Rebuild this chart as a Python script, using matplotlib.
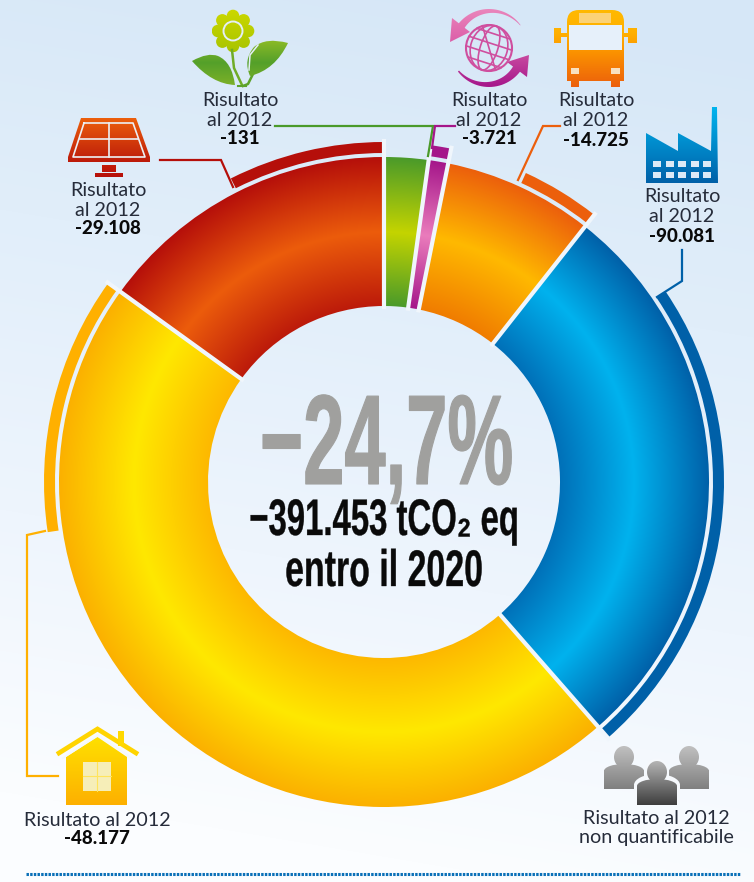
import numpy as np
import matplotlib
matplotlib.use('Agg')
import matplotlib.pyplot as plt
import matplotlib.patheffects as pe
from matplotlib.colors import to_rgb
from matplotlib.patches import Wedge, PathPatch, Circle, Ellipse, Rectangle, FancyBboxPatch
from matplotlib.path import Path
from matplotlib.transforms import Affine2D

# target of each sector (tCO2), clockwise from the top
sectors = ['verde', 'rifiuti', 'trasporti', 'industria', 'residenziale', 'terziario']
targets = [8590, 3800, 29150, 109400, 181600, 58913]
# result at 2012, shown as the outer thin arc
results = [131, 3721, 14725, 90081, 48177, 29108]
result_labels = ['-131', '-3.721', '-14.725', '-90.081', '-48.177', '-29.108']
total = 391453

main_label = '−24,7%'
sub_labels = ['−391.453 tCO₂ eq', 'entro il 2020']

W, H = 754, 882
cx, cy = 384, 482
r_in, r_mid, r_out = 176, 250, 325
arc_in, arc_out = 329, 340

# colours outer / middle / inner
grads = [('#4a9a2a', '#c4d400', '#4a9a2a'),
         ('#a5168a', '#ea7cbc', '#a5168a'),
         ('#ec5f0c', '#ffb900', '#f07c00'),
         ('#0060a8', '#00b2ee', '#0070b8'),
         ('#fbb000', '#ffe800', '#fdb800'),
         ('#b50f0a', '#ec5c0c', '#bc1a0a')]
line_cols = ['#4a9a2a', '#a5168a', '#ec5f0c', '#0060a8', '#ffb000', '#b50f0a']

fig = plt.figure(figsize=(W / 100, H / 100), dpi=100)
ax = fig.add_axes([0, 0, 1, 1])
ax.set_xlim(0, W)
ax.set_ylim(H, 0)
ax.set_autoscale_on(False)
ax.axis('off')

xx, yy = np.meshgrid(np.arange(W) + 0.5, np.arange(H) + 0.5)
rho = np.hypot(xx - cx, yy - cy)


def ramp(t, stops, cols):
    rgb = [to_rgb(c) for c in cols]
    return np.dstack([np.interp(t, stops, [c[i] for c in rgb]) for i in range(3)])


# background
bg = ramp(yy + 0.12 * (W - xx) - 0.05 * xx, [0, 300, 600, 882], ['#d6e7f7', '#e1eefa', '#eef5fd', '#fbfdff'])
ax.imshow(bg, extent=(0, W, H, 0), origin='upper', aspect='auto', zorder=0)


def vgrad(parts, stops, cols, z=3):
    # vertical gradient on a list of paths, top to bottom of the whole icon
    ext = Path.make_compound_path(*parts).get_extents()
    t = np.linspace(0, 1, 100).reshape(-1, 1)
    img = ramp(t, stops, cols)
    for p in parts:
        im = ax.imshow(img, extent=(ext.x0, ext.x1, ext.y1, ext.y0), origin='upper', aspect='auto', zorder=z)
        patch = PathPatch(p, fc='none', ec='none')
        ax.add_patch(patch)
        im.set_clip_path(patch)


def poly(*pts):
    pts = list(pts)
    return Path(pts + [pts[0]], closed=True)


def rect(x0, y0, x1, y1):
    return poly((x0, y0), (x1, y0), (x1, y1), (x0, y1))


def ell(x, y, rx, ry):
    return Path.unit_circle().transformed(Affine2D().scale(rx, ry).translate(x, y))


def curve(*pts):
    # start point then pairs control/end for quadratic curves
    verts = list(pts)
    codes = [Path.MOVETO] + [Path.CURVE3] * (len(verts) - 1)
    verts.append(pts[0])
    codes.append(Path.CLOSEPOLY)
    return Path(verts, codes)


def hole(p, col, z=4):
    ax.add_patch(PathPatch(p, fc=col, ec='none', zorder=z))


# donut
angles = np.cumsum([0] + targets) / np.sum(targets) * 360
for i, name in enumerate(sectors):
    a0, a1 = angles[i], angles[i + 1]
    w = Wedge((cx, cy), r_out, a0 - 90, a1 - 90, width=r_out - r_in, fc='none', ec='none')
    ax.add_patch(w)
    img = ramp(rho, [r_in, r_mid, r_out], grads[i][::-1])
    im = ax.imshow(img, extent=(0, W, H, 0), origin='upper', aspect='auto', zorder=1)
    im.set_clip_path(w)
    # thin arc, ends with the sector
    span = results[i] / total * 360
    ax.add_patch(Wedge((cx, cy), arc_out, a1 - span - 90, a1 - 90, width=arc_out - arc_in,
                       fc=line_cols[i], ec='none', zorder=2))
for a in angles[:-1]:
    t = np.radians(a - 90)
    ax.plot([cx + (r_in - 3) * np.cos(t), cx + (arc_out + 3) * np.cos(t)],
            [cy + (r_in - 3) * np.sin(t), cy + (arc_out + 3) * np.sin(t)],
            color='#f0f6fc', lw=3, zorder=2.5, solid_capstyle='butt')

# leader lines
leaders = [[(275, 126), (433, 126), (428, 156)],
           [(455, 126), (435, 126), (432, 148)],
           [(560, 126), (543, 126), (518, 180)],
           [(682, 250), (682, 281), (657, 297)],
           [(45, 531), (27, 535), (27, 776), (58, 776)],
           [(160, 160), (221, 160), (233, 187)]]
for pts, c in zip(leaders, line_cols):
    ax.plot(*zip(*pts), color=c, lw=1.6, zorder=2.6, solid_joinstyle='miter')

# flower icon
fx, fy = 233, 31
petals = [ell(fx + 15 * np.cos(t), fy + 15 * np.sin(t), 6.3, 6.3) for t in np.radians(np.arange(0, 360, 45))]
petals.append(ell(fx, fy, 14, 14))
vgrad(petals, [0, 1], ['#ccd800', '#a8c400'])
ax.add_patch(Circle((fx, fy), 9.5, fc='none', ec='#e4eef8', lw=1.4, zorder=5))
ax.plot([232, 234, 242], [50, 68, 85], color='#70ac28', lw=1.8, zorder=3)
ax.plot([243, 248, 253], [86, 84, 74], color='#5da32a', lw=1.8, zorder=3)
ax.plot([238, 246], [85.5, 85.5], color='#5da32a', lw=1.5, zorder=3)
leaf1 = curve((192, 61), (208, 52), (218, 56), (232, 62), (235, 85), (212, 84), (192, 61))
leaf2 = curve((288, 43), (266, 37), (254, 47), (243, 60), (250, 76), (275, 70), (288, 43))
vgrad([leaf1, leaf2], [0, 0.5, 1], ['#8cba26', '#54a02a', '#7cb028'])
ax.plot([258, 250, 249], [45, 55, 70], color='#e4eef8', lw=1.1, zorder=5)

# globe icon
gx, gy = 489, 48
tcol = '#cf4f9f'
ax.add_patch(Circle((gx, gy), 23, fc='none', ec=tcol, lw=1.5, zorder=4))
for k in (0.38, 0.8):
    ax.add_patch(Ellipse((gx, gy), 46 * k, 46, angle=18, fc='none', ec=tcol, lw=1.2, zorder=4))
ax.plot([gx - 6.5, gx + 6.5], [gy - 22, gy + 22], color=tcol, lw=1.2, zorder=4)
for d in (-15, -5, 5, 15):
    hw = np.sqrt(23 ** 2 - d ** 2)
    t = np.radians(18)
    ax.plot([gx - hw * np.cos(t) - d * np.sin(t), gx + hw * np.cos(t) - d * np.sin(t)],
            [gy - hw * np.sin(t) + d * np.cos(t), gy + hw * np.sin(t) + d * np.cos(t)],
            color=tcol, lw=1.2, zorder=4)
top = np.radians(np.linspace(-36, -150, 30))
rin = np.linspace(38.5, 31, 30)
arc_top = [(gx + 39 * np.cos(t), gy + 39 * np.sin(t)) for t in top] + \
          [(gx + r * np.cos(t), gy + r * np.sin(t)) for t, r in zip(top[::-1], rin[::-1])]
vgrad([poly(*arc_top), poly((450, 42), (452, 18), (470, 32))], [0, 1], ['#ea86bc', '#dc5ea8'])
bot = np.radians(np.linspace(143, 33, 30))
rin = np.linspace(37.5, 30, 30)
arc_bot = [(gx + 39 * np.cos(t), gy + 39 * np.sin(t)) for t in bot] + \
          [(gx + r * np.cos(t), gy + r * np.sin(t)) for t, r in zip(bot[::-1], rin[::-1])]
vgrad([poly(*arc_bot), poly((529, 55), (527, 77), (507, 62))], [0, 1], ['#c84aa0', '#a5168a'])

# bus icon
box = FancyBboxPatch((567, 10), 57, 90, boxstyle='round,pad=0,rounding_size=12')
body = box.get_path().transformed(box.get_patch_transform())
vgrad([Path(body.vertices.clip(min=(0, 0), max=(W, 81)), body.codes),
       rect(557, 33, 568, 37), rect(623, 33, 631, 37),
       rect(554, 28, 561, 43), rect(628, 28, 637, 43), rect(571, 81, 579, 87), rect(611, 81, 620, 87)],
      [0, 0.3, 0.55, 1], ['#ffb900', '#ffb000', '#fb9200', '#ec5f0c'])
hole(rect(569, 25, 622, 50), '#e6f0fa')
hole(rect(579, 13, 611, 23), '#fbd277')
hole(rect(571, 68, 579, 74), '#f8e0c0')
hole(rect(611, 68, 620, 74), '#f8e0c0')

# factory icon
vgrad([poly((646, 133), (678, 151), (678, 133), (711, 151), (712, 107), (717, 107), (718, 183), (646, 183))],
      [0, 1], ['#00b4ee', '#0060a8'])
for y0 in (161, 172):
    for k in range(5):
        x0 = 653 + 12.5 * k
        hole(rect(x0, y0, x0 + 8, y0 + 6), '#dce9f6')

# solar panel icon
panel = poly((81, 118), (136, 118), (150, 157), (150, 162), (68, 162), (68, 157))
vgrad([panel], [0, 1], ['#ec5f0c', '#bc1a0a'])
ax.plot([84, 133, 145, 73, 84], [123, 123, 157, 157, 123], color='#ecf0f4', lw=1.2, zorder=5)
ax.plot([109, 109], [123, 157], color='#ecf0f4', lw=1.2, zorder=5)
ax.plot([80, 138], [139, 139], color='#ecf0f4', lw=1.2, zorder=5)
vgrad([rect(102, 165, 116, 172), rect(95, 173, 123, 177)], [0, 1], ['#c41c0a', '#b50f0a'])

# house icon
vgrad([poly((97.5, 737), (127, 757), (127, 805), (66, 805), (66, 757))], [0, 1], ['#ffe000', '#fdb000'])
ax.plot([59, 97.5, 136], [753, 729, 753], color='#ffd400', lw=3.4, zorder=3, solid_joinstyle='miter')
ax.plot([63, 97.5, 132], [758, 735.5, 758], color='#f4f8fd', lw=1.2, zorder=5)
hole(rect(118, 731, 124, 746), '#ffd800', 3)
hole(rect(83, 762, 111, 791), '#f6eeb8')
ax.plot([97, 97], [762, 791], color='#ffe45c', lw=0.8, zorder=5)
ax.plot([83, 111], [776, 776], color='#ffe45c', lw=0.8, zorder=5)

# people icon
for x0, x1, hx in ((604, 644, 624), (669, 709, 689)):
    vgrad([ell(hx, 757, 10, 11), rect(x0, 770, x1, 789), ell(hx, 771, 20, 7)], [0, 1], ['#c0c0c0', '#808080'])
ax.add_patch(Ellipse((657, 785), 46, 22, fc='#f6f9fd', ec='none', zorder=3.5))
ax.add_patch(Rectangle((634, 786), 46, 19, fc='#f6f9fd', ec='none', zorder=3.5))
ax.add_patch(Ellipse((657, 772), 24, 28, fc='#f6f9fd', ec='none', zorder=3.5))
vgrad([ell(657, 772, 10, 11), rect(637, 786, 677, 805), ell(657, 786, 20, 7)], [0, 1], ['#b4b4b4', '#3e3e3e'], z=4)

# labels
light = dict(family=['Lato', 'DejaVu Sans'], weight='normal', fontsize=14.2, color='#262c3a', ha='center', va='center', zorder=6)
bold = dict(family=['Lato', 'DejaVu Sans'], weight='black', fontsize=13.5, color='#0a0a0a', ha='center', va='center', zorder=6)
label_pos = [(240, 100, 120, 139), (489, 100, 120, 139), (596, 100, 120, 140),
             (682, 197, 217, 236), (None, None, None, None), (108, 190, 211, 228)]
for i, pos in enumerate(label_pos):
    if pos[0] is None:
        continue
    ax.text(pos[0], pos[1], 'Risultato', **light)
    ax.text(pos[0], pos[2], 'al 2012', **light)
    ax.text(pos[0], pos[3], result_labels[i], **bold)
ax.text(97, 820, 'Risultato al 2012', **light)
ax.text(97, 839, result_labels[4], **bold)
ax.text(656, 819, 'Risultato al 2012', **light)
ax.text(656, 838, 'non quantificabile', **light)


class Squeeze(pe.AbstractPathEffect):
    # narrows the text around its own centre and thickens it, there is no DIN Condensed here
    def __init__(self, sx, extra):
        super().__init__()
        self.sx = sx
        self.extra = extra

    def draw_path(self, renderer, gc, tpath, affine, rgbFace=None):
        mid = affine.transform_path(tpath).get_extents()
        xc = (mid.x0 + mid.x1) / 2
        new = affine + Affine2D().translate(-xc, 0).scale(self.sx, 1).translate(xc, 0)
        gc2 = renderer.new_gc()
        gc2.copy_properties(gc)
        gc2.set_linewidth(self.extra)
        gc2.set_foreground(rgbFace)
        renderer.draw_path(gc2, tpath, new, rgbFace)
        gc2.restore()


din = ['Liberation Sans Narrow', 'Liberation Sans', 'DejaVu Sans']
ax.text(386, 484, main_label, family=din, weight='bold', fontsize=92, color='#a0a09e', ha='center', va='baseline',
        path_effects=[Squeeze(0.58, 0.8)], zorder=6)
ax.text(384, 535, sub_labels[0], family=din, weight='bold', fontsize=37, color='#0a0a0a', ha='center', va='baseline',
        path_effects=[Squeeze(0.64, 0.25)], zorder=6)
ax.text(384, 586, sub_labels[1], family=din, weight='bold', fontsize=37, color='#0a0a0a', ha='center', va='baseline',
        path_effects=[Squeeze(0.66, 0.25)], zorder=6)

# dotted rule at the bottom
ax.plot([26, 740], [874, 874], color='#0a70b8', lw=2.2, ls=(0, (0.8, 0.4)), zorder=2)

fig.savefig('out.png', dpi=100)
